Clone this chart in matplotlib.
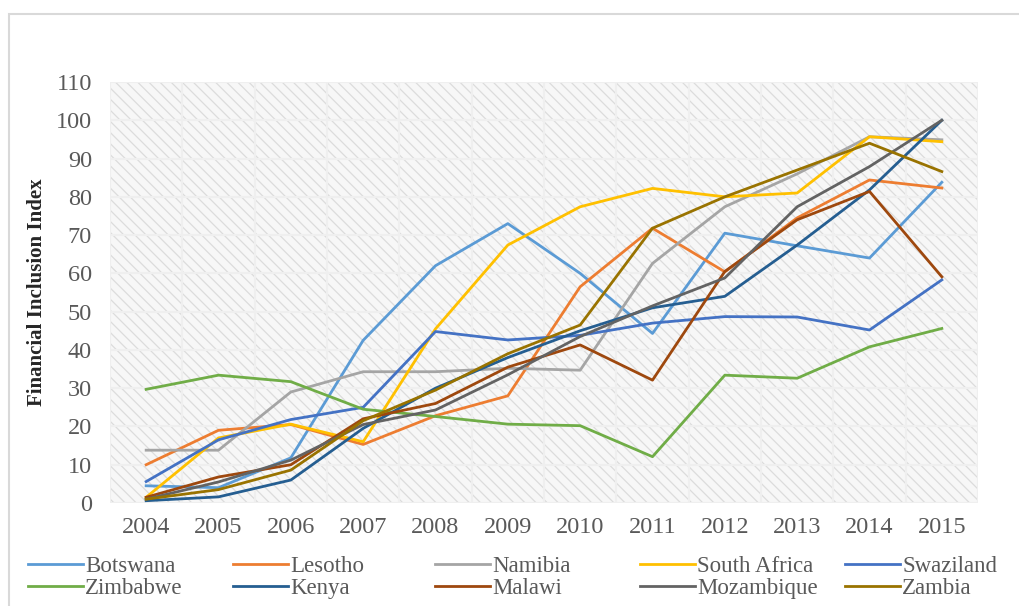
import numpy as np
import matplotlib
matplotlib.use("Agg")
from matplotlib import pyplot as plt
from matplotlib.patches import Rectangle

years = ["2004", "2005", "2006", "2007", "2008", "2009",
         "2010", "2011", "2012", "2013", "2014", "2015"]

botswana = [4.5, 4, 11.8, 42.5, 62, 73, 60, 44.3, 70.5, 67.2, 64, 83.8]
lesotho = [10, 19, 20.5, 15.3, 22.8, 28, 56.5, 71.8, 60.4, 74.5, 84.4, 82.3]
namibia = [13.8, 13.8, 29, 34.3, 34.3, 35.2, 34.7, 62.6, 77.4, 86, 95.7, 94.9]
south_africa = [1.5, 17, 20.6, 16, 45.5, 67.4, 77.4, 82.2, 80, 81, 95.7, 94.4]
swaziland = [5.6, 16.5, 21.8, 25, 44.8, 42.6, 43.8, 47, 48.7, 48.6, 45.2, 58.3]
zimbabwe = [29.7, 33.4, 31.7, 24.5, 22.6, 20.6, 20.2, 12.1, 33.4, 32.6, 40.8, 45.6]
kenya = [0.6, 1.6, 6, 19.5, 30, 38, 45, 51, 54, 67.4, 81.8, 100]
malawi = [1.5, 6.8, 10, 22, 26, 35.5, 41.3, 32.1, 60.5, 74, 81.4, 59.1]
mozambique = [1, 5.5, 11.2, 20.5, 24.3, 33.5, 43.5, 51.5, 58.8, 77.4, 87.9, 100]
zambia = [1, 3.5, 8.6, 21.5, 29.5, 39, 46.5, 71.8, 80, 87, 94, 86.6]

names = ["Botswana", "Lesotho", "Namibia", "South Africa", "Swaziland",
         "Zimbabwe", "Kenya", "Malawi", "Mozambique", "Zambia"]
series = [botswana, lesotho, namibia, south_africa, swaziland,
          zimbabwe, kenya, malawi, mozambique, zambia]
colors = ["#5B9BD5", "#ED7D31", "#A5A5A5", "#FFC000", "#4472C4",
          "#70AD47", "#255E91", "#9E480E", "#636363", "#997300"]

serif = "Liberation Serif"
txt_gray = "#595959"

plt.rcParams["hatch.linewidth"] = 0.9

fig = plt.figure(figsize=(10.19, 6.06), dpi=100)

# outer chart frame
fig.patches.append(Rectangle((9 / 1019, -0.05), 1.2, 1 - 14 / 606 + 0.05,
                             transform=fig.transFigure, fill=False,
                             edgecolor="#D9D9D9", linewidth=1.5))

ax = fig.add_axes([110 / 1019, 1 - 503 / 606, 868 / 1019, 421 / 606])
x = np.arange(len(years))

# hatched plot area
ax.add_patch(Rectangle((0, 0), 1, 1, transform=ax.transAxes, facecolor="#F7F7F7",
                       edgecolor="#DCDCDC", hatch="\\" * 3, linewidth=0, zorder=0))

for v in range(0, 111, 10):
    ax.axhline(v, color="#EFEFEF", linewidth=1.5, zorder=1)
for xi in np.arange(-0.5, 12, 1):
    ax.axvline(xi, color="#EFEFEF", linewidth=1.5, zorder=1)

lines = []
for name, vals, c in zip(names, series, colors):
    ln, = ax.plot(x, vals, color=c, linewidth=2.0, label=name, zorder=3)
    lines.append(ln)

ax.set_xlim(-0.5, 11.5)
ax.set_ylim(0, 110)
ax.set_yticks(range(0, 111, 10))
ax.set_xticks(x)
ax.set_xticklabels(years)
for s in ax.spines.values():
    s.set_visible(False)
ax.tick_params(length=0, labelcolor=txt_gray, labelsize=17.5)
ax.tick_params(axis="y", pad=13)
ax.tick_params(axis="x", pad=10)
for lab in ax.get_xticklabels() + ax.get_yticklabels():
    lab.set_family(serif)

fig.text(37 / 1019, 1 - 292 / 606, "Financial Inclusion Index", rotation=90,
         ha="center", va="center", family=serif, fontweight="bold",
         fontsize=15, color="#262626")

# legend: five columns, two rows
col_x = [28, 233, 435, 640, 845]
for i, cx in enumerate(col_x):
    leg = fig.legend([lines[i], lines[i + 5]], [names[i], names[i + 5]],
                     loc="upper left", bbox_to_anchor=(cx / 1019, 1 - 556 / 606),
                     bbox_transform=fig.transFigure, frameon=False,
                     borderpad=0, borderaxespad=0, handlelength=2.4,
                     handletextpad=0.1, labelspacing=0.05,
                     prop={"family": serif, "size": 16.5})
    for t in leg.get_texts():
        t.set_color(txt_gray)

fig.savefig("out.png", dpi=100)
